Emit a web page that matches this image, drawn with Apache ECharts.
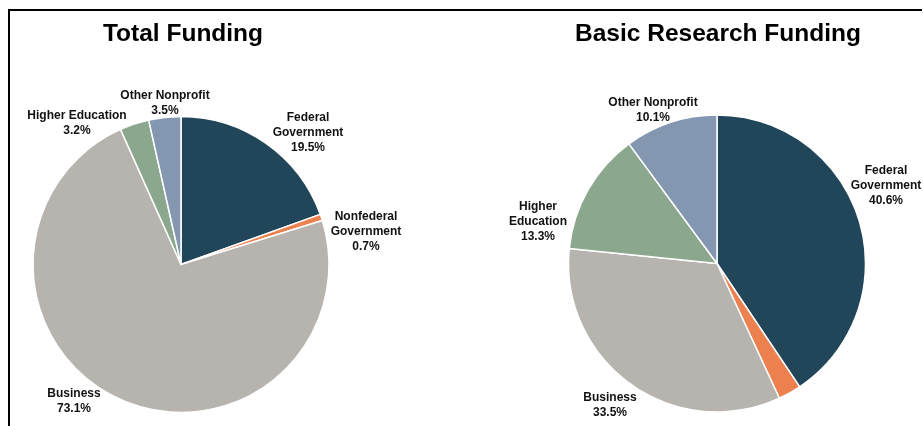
<!DOCTYPE html>
<html>
<head>
<meta charset="utf-8">
<style>
  html, body { margin: 0; padding: 0; background: #ffffff; }
  #chart { width: 923px; height: 426px; }
</style>
<script src="https://cdn.jsdelivr.net/npm/echarts@6/dist/echarts.min.js"></script>
</head>
<body>
<div id="chart"></div>
<script>
// ---- Data ----
var categories = ['Federal Government', 'Nonfederal Government', 'Business', 'Higher Education', 'Other Nonprofit'];
var totalValues = [19.5, 0.7, 73.1, 3.2, 3.5];
var basicValues = [40.6, 2.5, 33.5, 13.3, 10.1];
var totalLabelNames = ['Federal\nGovernment', 'Nonfederal\nGovernment', 'Business', 'Higher Education', 'Other Nonprofit'];
var basicLabelNames = ['Federal\nGovernment', '', 'Business', 'Higher\nEducation', 'Other Nonprofit'];
var chartTitles = ['Total Funding', 'Basic Research Funding'];

// ---- Styling ----
var sliceColors = ['#21465A', '#EC814F', '#B7B4AF', '#8BA78E', '#8497B0'];
var labelPos = [
  [[308, 133], [366, 232], [74, 401.5], [77, 123], [165, 103]],
  [[886, 186], [0, 0], [610, 405.5], [538, 222], [653, 110]]
];

function buildData(values, labelNames) {
  return values.map(function (v, i) {
    return {
      name: categories[i],
      value: v,
      labelText: labelNames[i],
      itemStyle: { color: sliceColors[i] },
      label: { show: labelNames[i] !== '' }
    };
  });
}

function makeSeries(idx, values, labelNames, center, radius) {
  var data = buildData(values, labelNames);
  return {
    type: 'pie',
    center: center,
    radius: radius,
    startAngle: 90,
    clockwise: true,
    avoidLabelOverlap: false,
    silent: true,
    animation: false,
    itemStyle: { borderColor: '#ffffff', borderWidth: 1.5 },
    labelLine: { show: false },
    label: {
      position: 'outside',
      fontFamily: 'Liberation Sans, Arial, sans-serif',
      fontWeight: 'bold',
      fontSize: 12,
      lineHeight: 15,
      color: '#111111',
      align: 'center',
      formatter: function (p) {
        return data[p.dataIndex].labelText + '\n' + p.value.toFixed(1) + '%';
      }
    },
    labelLayout: function (params) {
      var pos = labelPos[idx][params.dataIndex];
      return { x: pos[0], y: pos[1], align: 'center', verticalAlign: 'middle', hideOverlap: false };
    },
    data: data
  };
}

var titleStyle = { fontFamily: 'Liberation Sans, Arial, sans-serif', fontWeight: 'bold', fontSize: 24.5, color: '#000' };
var chart = echarts.init(document.getElementById('chart'), null, { renderer: 'canvas' });
chart.setOption({
  backgroundColor: '#ffffff',
  title: [
    { text: chartTitles[0], left: 178, top: 17, textAlign: 'center', textStyle: titleStyle },
    { text: chartTitles[1], left: 713, top: 17, textAlign: 'center', textStyle: titleStyle }
  ],
  graphic: [
    { type: 'line', shape: { x1: 9, y1: 10, x2: 922, y2: 10 }, style: { stroke: '#000', lineWidth: 2 } },
    { type: 'line', shape: { x1: 9, y1: 9, x2: 9, y2: 426 }, style: { stroke: '#000', lineWidth: 2 } }
  ],
  series: [
    makeSeries(0, totalValues, totalLabelNames, [181, 264.5], 148),
    makeSeries(1, basicValues, basicLabelNames, [717, 263.5], 148.5)
  ]
});
</script>
</body>
</html>
